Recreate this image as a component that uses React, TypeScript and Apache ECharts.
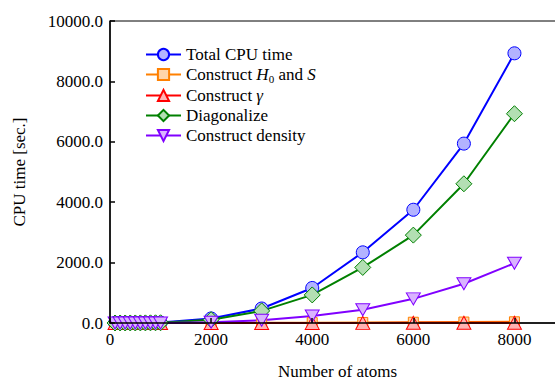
import React, { useEffect, useRef } from "react";
import * as echarts from "echarts";

const atoms = [100, 200, 300, 400, 500, 600, 700, 800, 900, 1000, 2000, 3000, 4000, 5000, 6000, 7000, 8000];
const totalCPU = [0.5, 1, 1.5, 2.5, 3.5, 5, 6.5, 8, 10, 13, 150, 480, 1160, 2340, 3750, 5940, 8930];
const constructH0S = [0.1, 0.1, 0.2, 0.3, 0.4, 0.5, 0.6, 0.7, 0.8, 1, 5, 8, 12, 18, 25, 32, 40];
const constructGamma = [0.1, 0.1, 0.1, 0.2, 0.2, 0.3, 0.3, 0.4, 0.4, 0.5, 1, 2, 3, 4, 5, 6, 8];
const diagonalize = [0.3, 0.6, 1, 1.5, 2, 3, 4, 5, 6.5, 8, 110, 400, 930, 1840, 2910, 4610, 6930];
const constructDensity = [0.1, 0.2, 0.3, 0.5, 0.7, 0.9, 1.2, 1.5, 1.8, 2.2, 25, 90, 230, 440, 800, 1300, 1980];

const seriesNames = ["Total CPU time", "Construct H0 and S", "Construct gamma", "Diagonalize", "Construct density"];
const yTicks = [0, 2000, 4000, 6000, 8000, 10000];

const FONT = "Liberation Serif";

export default function App() {
  const ref = useRef<HTMLDivElement>(null);
  useEffect(() => {
    if (!ref.current) return;
    const chart = echarts.init(ref.current, null, { renderer: "svg" });
    const mk = (
      name: string,
      vals: number[],
      color: string,
      fill: string,
      symbol: string,
      size: number | number[],
      rotate = 0
    ) => ({
      name,
      type: "line",
      data: atoms.map((a, i) => [a, vals[i]]),
      symbol,
      symbolSize: size,
      symbolRotate: rotate,
      showAllSymbol: true,
      lineStyle: { color, width: 2 },
      itemStyle: { color: fill, borderColor: color, borderWidth: 1 },
      emphasis: { disabled: true },
    });
    chart.setOption({
      animation: false,
      textStyle: { fontFamily: FONT },
      grid: {
        left: 110,
        right: -10,
        top: 21,
        bottom: 58,
        containLabel: false,
        outerBoundsMode: "none",
        show: true,
        borderColor: "#000",
        borderWidth: 1,
        backgroundColor: "transparent",
      },
      legend: {
        orient: "vertical",
        left: 145,
        top: 46,
        padding: 0,
        itemWidth: 35,
        itemHeight: 14,
        itemGap: 3,
        data: seriesNames,
        textStyle: {
          fontFamily: FONT,
          fontSize: 17,
          color: "#000",
          rich: {
            n: { fontFamily: FONT, fontSize: 17, color: "#000" },
            i: { fontFamily: FONT, fontSize: 17, fontStyle: "italic", color: "#000" },
            s: { fontFamily: FONT, fontSize: 11, color: "#000", verticalAlign: "bottom", padding: [8, 0, 0, 0] },
          },
        },
        formatter: (name: string) => {
          if (name === "Construct H0 and S") return "{n|Construct }{i|H}{s|0}{n| and }{i|S}";
          if (name === "Construct gamma") return "{n|Construct }{i|γ}";
          return "{n|" + name + "}";
        },
      },
      xAxis: {
        type: "value",
        min: 0,
        max: 9000,
        interval: 2000,
        z: 5,
        name: "Number of atoms",
        nameLocation: "middle",
        nameGap: 40,
        nameTextStyle: { fontFamily: FONT, fontSize: 17, color: "#000" },
        axisLine: { show: true, lineStyle: { color: "#000", width: 1.5 } },
        axisTick: { show: true, inside: true, length: 5, lineStyle: { color: "#000", width: 1.5 } },
        axisLabel: {
          fontFamily: FONT,
          fontSize: 17,
          color: "#000",
          margin: 8,
          showMaxLabel: false,
          formatter: (v: number) => String(v),
        },
        splitLine: { show: false },
      },
      yAxis: {
        type: "value",
        min: yTicks[0],
        max: yTicks[yTicks.length - 1],
        interval: 2000,
        z: 5,
        name: "CPU time [sec.]",
        nameLocation: "middle",
        nameGap: 82,
        nameTextStyle: { fontFamily: FONT, fontSize: 17, color: "#000" },
        axisLine: { show: true, lineStyle: { color: "#000", width: 1.5 } },
        axisTick: { show: true, inside: true, length: 5, lineStyle: { color: "#000", width: 1.5 } },
        axisLabel: {
          fontFamily: FONT,
          fontSize: 17,
          color: "#000",
          margin: 7,
          formatter: (v: number) => v.toFixed(1),
        },
        splitLine: { show: false },
      },
      series: [
        mk(seriesNames[0], totalCPU, "#0000ff", "#b3b3ff", "circle", 13),
        mk(seriesNames[1], constructH0S, "#ff8000", "#ffd4a8", "rect", 10),
        mk(seriesNames[2], constructGamma, "#ff0000", "#ffb3b3", "triangle", [14, 13]),
        mk(seriesNames[3], diagonalize, "#008000", "#b3dfb3", "diamond", 16),
        mk(seriesNames[4], constructDensity, "#8000ff", "#d9b3ff", "triangle", [14, 12], 180),
      ],
    });
    return () => chart.dispose();
  }, []);
  return <div ref={ref} style={{ position: "absolute", left: 0, top: 0, width: 555, height: 381 }} />;
}
